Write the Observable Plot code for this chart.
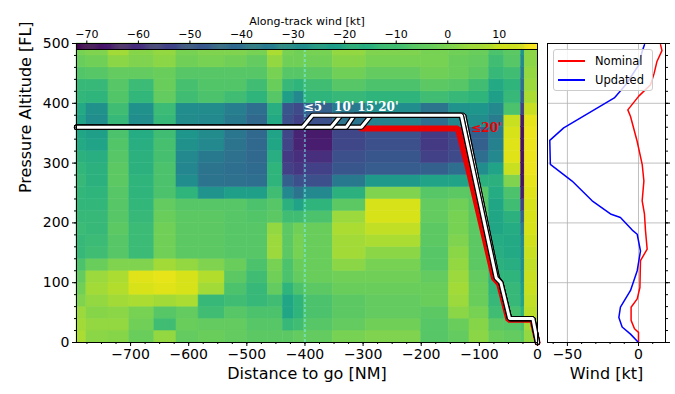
<!DOCTYPE html>
<html><head><meta charset="utf-8">
<script src="https://cdn.jsdelivr.net/npm/d3@7"></script>
<script src="https://cdn.jsdelivr.net/npm/@observablehq/plot@0.6"></script>
<style>
body{margin:0;background:#fff;}
#wrap{position:relative;width:675px;height:394px;font-family:"DejaVu Sans",sans-serif;overflow:hidden;}
#wrap svg{position:absolute;top:0;}
.lg{position:absolute;left:553px;top:49px;width:100px;height:42px;box-sizing:border-box;background:rgba(255,255,255,0.8);border:1px solid #cccccc;border-radius:3px;font-size:11.5px;color:#000;}
.lg .it{position:absolute;left:4px;height:14px;line-height:14px;}
.lg .sw{position:absolute;left:0;top:6px;width:27px;height:0;border-top:2px solid;}
.lg .tx{position:absolute;left:37px;top:0;white-space:nowrap;}
</style></head><body><div id="wrap"></div><script>
// ---- heatmap grid (along-track wind, kt) ----
const distEdges = [-793,-776,-738,-702,-659,-621,-583,-538,-500,-464,-438,-419,-402,-352,-295,-200,-152,-117,-83,-57,-28,-22,0];
const flEdges = [0,20,40,60,80,100,120,140,160,180,200,220,240,260,280,300,320,340,360,380,400,420,440,460,480,500];
// each column: values from FL 0 (bottom) to FL 500 (top)
const col01 = [6,5,4,0,-2,-4,-8,-12,-12,-11,-12,-13,-13,-12,-13,-15,-18,-19,-20,-18,-13,-12,-7,-3,-1];
const col02 = [2,3,1,3,5,4,-3,-10,-11,-12,-12,-13,-14,-15,-15,-16,-20,-22,-28,-27,-14,-12,-6,-2,0];
const col03 = [1,3,2,5,7,6,0,-6,-6,-5,-6,-6,-6,-5,-5,-6,-7,-8,-12,-10,-7,-6,-4,2,5];
const col04 = [-3,-2,-1,6,12,13,0,-11,-11,-11,-12,-13,-14,-14,-15,-15,-16,-17,-28,-27,-13,-11,-4,0,1];
const col05 = [3,-10,-6,5,13,14,5,-2,-2,-2,-3,-4,-8,-8,-8,-9,-9,-10,-12,-11,-4,-3,-3,2,3];
const col06 = [-4,-3,-4,6,12,12,3,-5,-5,-5,-5,-6,-14,-28,-31,-30,-27,-25,-29,-28,-10,-9,-6,-2,-1];
const col07 = [-3,-4,-10,-12,5,7,0,-5,-5,-5,-5,-6,-26,-38,-38,-36,-30,-29,-30,-29,-8,-7,-6,-1,0];
const col08 = [-4,-4,-6,-10,-8,-5,-3,-6,-6,-6,-6,-6,-22,-39,-40,-39,-38,-37,-36,-34,-10,-7,-6,-2,0];
const col09 = [-5,-6,-8,-12,-12,-10,-8,-6,-6,-6,-7,-8,-22,-40,-41,-42,-42,-42,-42,-40,-14,-10,-6,-4,-1];
const col10 = [-5,-6,-8,-10,-4,-2,-1,4,4,3,-5,-6,-10,-14,-14,-16,-19,-20,-18,-16,-6,-3,-1,3,6];
const col11 = [-5,-12,-19,-19,-14,-8,-8,-5,-5,-5,-10,-15,-30,-45,-55,-57,-54,-53,-50,-48,-22,-12,-6,-2,-1];
const col12 = [-4,-10,-14,-14,-8,-4,-3,-1,-1,-2,-10,-20,-38,-50,-58,-60,-63,-63,-55,-52,-30,-14,-6,-2,-2];
const col13 = [-4,-6,-8,-8,-5,-3,-3,-3,-3,-3,-8,-14,-30,-50,-55,-60,-65,-66,-50,-45,-14,-10,-5,-2,-1];
const col14 = [-1,-4,-5,-5,-3,-2,2,5,5,6,4,-5,-15,-36,-48,-50,-53,-53,-38,-36,-12,-6,-2,1,3];
const col15 = [0,-2,-4,-4,-3,-2,-1,2,6,9,12,12,0,-24,-46,-48,-50,-50,-32,-28,-14,-8,-4,-1,0];
const col16 = [-6,-6,-5,-3,-3,-4,-6,-6,-5,-5,-4,-4,-6,-20,-45,-55,-57,-57,-40,-38,-10,-5,-2,-1,-1];
const col17 = [-4,-3,2,4,5,4,3,2,0,-1,-1,-2,-5,-20,-40,-52,-53,-53,-30,-26,-12,-6,-3,-3,-2];
const col18 = [2,1,-1,-3,-3,-4,-5,-5,-5,-5,-5,-6,-6,-15,-28,-40,-45,-45,-28,-25,-14,-10,-5,-4,-3];
const col19 = [-3,-5,-10,-12,-13,-14,-15,-16,-17,-19,-19,-19,-17,-15,-20,-30,-33,-35,-35,-30,-22,-18,-12,-10,-8];
const col20 = [-4,-6,-9,-12,-12,-14,-16,-18,-18,-17,-15,-10,-8,0,10,13,13,12,10,-8,-12,-14,-10,-6,-5];
const col21 = [-5,-8,-15,-20,-22,-25,-28,-28,-30,-35,-45,-55,-65,-68,-68,-68,-68,-68,-66,-55,-45,-40,-35,-30,-25];
const col22 = [3,5,8,9,10,10,9,10,11,12,12,12,13,14,15,15,15,15,14,10,6,4,3,2,2];
const windColumns = [col01,col02,col03,col04,col05,col06,col07,col08,col09,col10,col11,col12,col13,col14,col15,col16,col17,col18,col19,col20,col21,col22];

// colour bar
const windMin = -72, windMax = 17.4;
const cbTicks = [-70,-60,-50,-40,-30,-20,-10,0,10];

// axes ticks
const distTicks = [-700,-600,-500,-400,-300,-200,-100,0];
const distMinor = d3.range(-775, 1, 25);
const flTicks = [0,100,200,300,400,500];
const flMinor = d3.range(0, 501, 20);
const windTicks = [-50, 0];
const windMinor = [-60,-40,-30,-20,-10,10];
const dashedDist = -400;

// trajectories
const pathDist20 = [-793,-303,-286,-127,-69,-63,-48,-8,0];
const pathDist15 = [-793,-329,-315,-127,-69,-63,-48,-8,0];
const pathDist10 = [-793,-355,-338,-131,-71,-63,-48,-8,0];
const pathDist5  = [-793,-404,-387,-131,-71,-63,-48,-8,0];
const pathFL     = [360,360,380,380,108,100,40,40,0];
const redDist = [-303,-137,-119,-75,-66,-50,-9,0];
const redFL   = [358,358,290,108,98,38,38,0];
const climbLabels = ["≤5'","10'","15'","20'"];
const climbLabelDist = [-402,-350,-310,-274];
const climbLabelFL = [393,393,393,393];
const redLabel = "≤20'";
const redLabelDist = -114, redLabelFL = 358;

// wind profiles (right panel)
const nominalFL   = [0,17,23,37,59,73,92,137,156,188,215,237,270,298,337,378,389,412,431,450,470,488,498];
const nominalWind = [0,0,-2.8,-5.2,-5.2,-0.9,1,1.4,6.1,4.9,4.2,2.6,3.8,2.6,-1,-5.6,-7.5,0.2,8.5,11,13,16.5,15.5];
const updatedFL   = [0,14,26,42,59,87,120,153,181,188,209,215,237,270,298,338,359,409,431,464,487,498];
const updatedWind = [0,-5.6,-11.5,-13.8,-12.7,-5.6,-0.9,1.4,-0.9,-4.4,-12.7,-19.7,-32.6,-46.7,-62,-62.4,-52.6,-17,-9,0.2,2.6,4.2];

// ---- build ----
const fmt = d => d < 0 ? "\u2212" + Math.abs(d) : String(d);
const cells = [];
windColumns.forEach((col, i) => col.forEach((v, j) => cells.push({x1: distEdges[i], x2: distEdges[i+1], y1: flEdges[j], y2: flEdges[j+1], v})));
const colorOpt = {type: "linear", scheme: "viridis", domain: [windMin, windMax], clamp: true};
const zip = (xs, ys) => xs.map((x, i) => ({x, y: ys[i]}));
const baseStyle = {background: "transparent", fontFamily: "DejaVu Sans", color: "black", overflow: "visible"};

function outlined(xs, ys) {
  const pts = zip(xs, ys);
  return [
    Plot.line(pts, {x: "x", y: "y", stroke: "black", strokeWidth: 5.2, strokeLinejoin: "miter"}),
    Plot.line(pts, {x: "x", y: "y", stroke: "white", strokeWidth: 3, strokeLinejoin: "miter"})
  ];
}

const main = Plot.plot({
  width: 545, height: 394, marginLeft: 76, marginRight: 8, marginTop: 43, marginBottom: 52,
  style: baseStyle,
  x: {domain: [distEdges[0], 0], axis: null},
  y: {domain: [0, 500], axis: null},
  color: colorOpt,
  marks: [
    Plot.rect(cells, {x1: "x1", x2: "x2", y1: "y1", y2: "y2", fill: "v", stroke: "v", strokeWidth: 0.5, inset: 0}),
    Plot.ruleX([dashedDist], {y1: 0, y2: 490, stroke: "#7ff0f5", strokeWidth: 1, strokeDasharray: "3,2"}),
    Plot.line(zip(redDist, redFL), {x: "x", y: "y", stroke: "#ee0000", strokeWidth: 6, strokeLinejoin: "miter"}),
    ...outlined(pathDist20, pathFL),
    ...outlined(pathDist15, pathFL),
    ...outlined(pathDist10, pathFL),
    ...outlined(pathDist5, pathFL),
    Plot.text(climbLabels, {x: (d, i) => climbLabelDist[i], y: (d, i) => climbLabelFL[i], text: d => d, fill: "white", fontFamily: "DejaVu Serif", fontWeight: "bold", fontSize: 12, textAnchor: "start"}),
    Plot.text([redLabel], {x: redLabelDist, y: redLabelFL, text: d => d, fill: "#ee0000", fontFamily: "DejaVu Serif", fontWeight: "bold", fontSize: 12, textAnchor: "start"}),
    Plot.frame({stroke: "black", strokeWidth: 1}),
    Plot.axisX({anchor: "bottom", ticks: distTicks, tickSize: 4, tickPadding: 3, fontSize: 14, tickFormat: fmt, label: null}),
    Plot.axisX({anchor: "bottom", ticks: distMinor, tickSize: 2, tickFormat: () => "", label: null}),
    Plot.axisY({anchor: "left", ticks: flTicks, tickSize: 4, tickPadding: 3, fontSize: 14, tickFormat: fmt, label: null}),
    Plot.axisY({anchor: "left", ticks: flMinor, tickSize: 2, tickFormat: () => "", label: null}),
    Plot.text(["Distance to go [NM]"], {frameAnchor: "bottom", dy: 36, text: d => d, fontSize: 16}),
    Plot.text(["Pressure Altitude [FL]"], {frameAnchor: "left", dx: -51, rotate: -90, text: d => d, fontSize: 16})
  ]
});

const cbSamples = d3.range(windMin, windMax, 0.2);
const cbar = Plot.plot({
  width: 545, height: 50, marginLeft: 76, marginRight: 8, marginTop: 43, marginBottom: 1,
  style: baseStyle,
  x: {domain: [windMin, windMax], axis: null},
  y: {domain: [0, 1], axis: null},
  color: colorOpt,
  marks: [
    Plot.rect(cbSamples, {x1: d => d, x2: d => Math.min(d + 0.25, windMax), y1: 0, y2: 1, fill: d => d, inset: 0}),
    Plot.frame({stroke: "black", strokeWidth: 1}),
    Plot.axisX({anchor: "top", ticks: cbTicks, tickSize: 3.5, tickPadding: 2, fontSize: 11, tickFormat: fmt, label: null}),
    Plot.text(["Along-track wind [kt]"], {frameAnchor: "top", dy: -26, text: d => d, fontSize: 11})
  ]
});

const side = Plot.plot({
  width: 135, height: 394, marginLeft: 7, marginRight: 10, marginTop: 43, marginBottom: 52,
  style: baseStyle,
  x: {domain: [-64, 19], axis: null},
  y: {domain: [0, 500], axis: null},
  marks: [
    Plot.ruleX(windTicks, {stroke: "#b0b0b0", strokeWidth: 0.8}),
    Plot.ruleY([100, 200, 300, 400], {stroke: "#b0b0b0", strokeWidth: 0.8}),
    Plot.line(zip(nominalWind, nominalFL), {x: "x", y: "y", stroke: "red", strokeWidth: 1.5}),
    Plot.line(zip(updatedWind, updatedFL), {x: "x", y: "y", stroke: "blue", strokeWidth: 1.5}),
    Plot.frame({stroke: "black", strokeWidth: 1}),
    Plot.axisX({anchor: "bottom", ticks: windTicks, tickSize: 4, tickPadding: 3, fontSize: 14, tickFormat: fmt, label: null}),
    Plot.axisX({anchor: "bottom", ticks: windMinor, tickSize: 2, tickFormat: () => "", label: null}),
    Plot.axisY({anchor: "right", ticks: flTicks, tickSize: 4, tickFormat: () => "", label: null}),
    Plot.axisY({anchor: "right", ticks: flMinor, tickSize: 2, tickFormat: () => "", label: null}),
    Plot.text(["Wind [kt]"], {frameAnchor: "bottom", dy: 36, text: d => d, fontSize: 16})
  ]
});

const wrap = document.getElementById("wrap");
main.style.left = "0px";
side.style.left = "540px";
cbar.style.left = "0px";
wrap.appendChild(main);
wrap.appendChild(side);
wrap.appendChild(cbar);

const lg = document.createElement("div");
lg.className = "lg";
[["Nominal", "red", 4], ["Updated", "blue", 23]].forEach(([name, c, top]) => {
  const it = document.createElement("div");
  it.className = "it";
  it.style.top = top + "px";
  const sw = document.createElement("span"); sw.className = "sw"; sw.style.borderTopColor = c;
  const tx = document.createElement("span"); tx.className = "tx"; tx.textContent = name;
  it.appendChild(sw); it.appendChild(tx);
  lg.appendChild(it);
});
wrap.appendChild(lg);
</script></body></html>
